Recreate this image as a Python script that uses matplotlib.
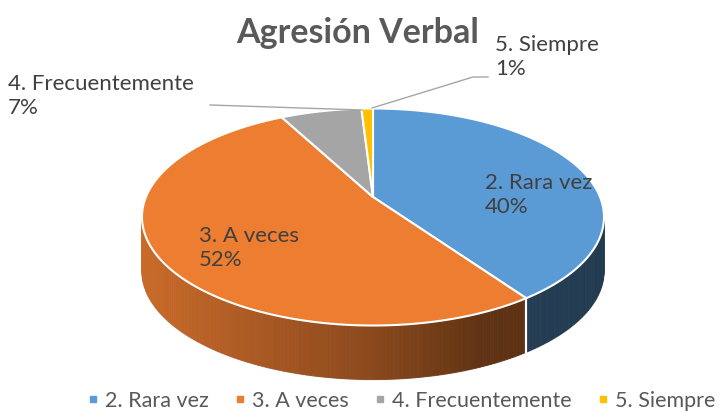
import numpy as np
import matplotlib.pyplot as plt
from matplotlib.patches import Polygon
from matplotlib.lines import Line2D
from matplotlib.colors import to_rgb

# Data
categories = ['2. Rara vez', '3. A veces', '4. Frecuentemente', '5. Siempre']
values = [40, 52, 7, 1]
colors = ['#5B9BD5', '#ED7D31', '#A5A5A5', '#FFC000']
title = 'Agresión Verbal'

plt.rcParams['font.family'] = ['Lato', 'DejaVu Sans']

W, H = 719, 412
fig = plt.figure(figsize=(W / 100, H / 100), dpi=100)
ax = fig.add_axes([0, 0, 1, 1])
ax.set_xlim(0, W)
ax.set_ylim(0, H)
ax.axis('off')

# 3D pie geometry (pixel coords, y up). Top face is an ellipse; the pie centre
# sits a bit behind the ellipse centre because of the perspective.
cx, cy = 373, H - 217
A, B = 231, 108.5
apex_dy = 20          # apex above ellipse centre
q = 0.48              # squash of slice directions around the apex
depth = 54


def ellipse_angle(theta):
    """ellipse parameter angle hit by the ray from the apex at pie angle theta"""
    r = np.radians(theta)
    dx, dy = np.cos(r), q * np.sin(r)
    a = dx**2 / A**2 + dy**2 / B**2
    b = 2 * apex_dy * dy / B**2
    c = apex_dy**2 / B**2 - 1
    t = (-b + np.sqrt(b * b - 4 * a * c)) / (2 * a)
    x, y = t * dx, apex_dy + t * dy
    phi = np.degrees(np.arctan2(y / B, x / A))
    # keep continuity with theta
    return phi + 360 * np.round((theta - phi) / 360)


def pt(phi, dz=0):
    r = np.radians(phi)
    return cx + A * np.cos(r), cy + B * np.sin(r) - dz


def shade(c, phi):
    f = np.interp(np.cos(np.radians(phi)), [-1, 0, 0.5, 1], [0.85, 0.58, 0.40, 0.38])
    return tuple(np.array(to_rgb(c)) * f)


total = float(sum(values))
cum = np.concatenate([[0], np.cumsum(values)]) / total
bounds = [(ellipse_angle(90 - 360 * cum[i + 1]), ellipse_angle(90 - 360 * cum[i]))
          for i in range(len(values))]

# side walls (front half only)
for (a, b), c in zip(bounds, colors):
    for shift in (0, 360, -360):
        lo, hi = max(a + shift, -180), min(b + shift, 0)
        if hi <= lo:
            continue
        ts = np.linspace(lo, hi, max(2, int(hi - lo) + 1))
        for t0, t1 in zip(ts[:-1], ts[1:]):
            col = shade(c, (t0 + t1) / 2)
            ax.add_patch(Polygon([pt(t0), pt(t1), pt(t1, depth), pt(t0, depth)],
                                 closed=True, facecolor=col, edgecolor=col,
                                 linewidth=0.6, zorder=2))
        for tb in (lo, hi):
            if -179 < tb < -1:
                (x0, y0), (x1, y1) = pt(tb), pt(tb, depth)
                ax.plot([x0, x1], [y0, y1], color='white', lw=1.5, zorder=3)

tt = np.linspace(-180, 0, 200)
bx, by = zip(*[pt(t, depth) for t in tt])
ax.plot(bx, by, color='#D0D0D0', lw=1.2, zorder=1)

# top faces
apex = (cx, cy + apex_dy)
for (a, b), c in zip(bounds, colors):
    arc = [pt(t) for t in np.linspace(a, b, max(3, int(b - a) * 2))]
    ax.add_patch(Polygon([apex] + arc, closed=True, facecolor=c, edgecolor='white',
                         linewidth=1.5, joinstyle='round', zorder=5))

# title
ax.text(358, H - 33, title, ha='center', va='center', fontsize=24.5,
        fontweight='bold', color='#595959')

# data labels
lab_style = dict(fontsize=16, color='#404040', ha='left', va='center', linespacing=1.2)
pcts = [f'{v / total:.0%}' for v in values]
label_pos = [(485, H - 195), (199, H - 248), (8, H - 96), (495, H - 57)]
for cat, p, (x, y) in zip(categories, pcts, label_pos):
    ax.text(x, y, f'{cat}\n{p}', **lab_style, zorder=8)

# leader lines
ax.plot([210, 362], [H - 105, H - 110], color='#A6A6A6', lw=1, zorder=6)
ax.plot([488, 473, 372], [H - 77, H - 77, H - 108], color='#A6A6A6', lw=1, zorder=6)

# legend
handles = [Line2D([], [], marker='s', linestyle='none', markersize=5,
                  markerfacecolor=c, markeredgecolor=c) for c in colors]
fig.legend(handles, categories, loc='center', bbox_to_anchor=(401 / W, 11 / H),
           ncol=4, frameon=False, fontsize=15.5, handlelength=0.6, handletextpad=0.27,
           columnspacing=1.14, labelcolor='#595959', borderaxespad=0, borderpad=0)

fig.savefig('out.png', dpi=100)
